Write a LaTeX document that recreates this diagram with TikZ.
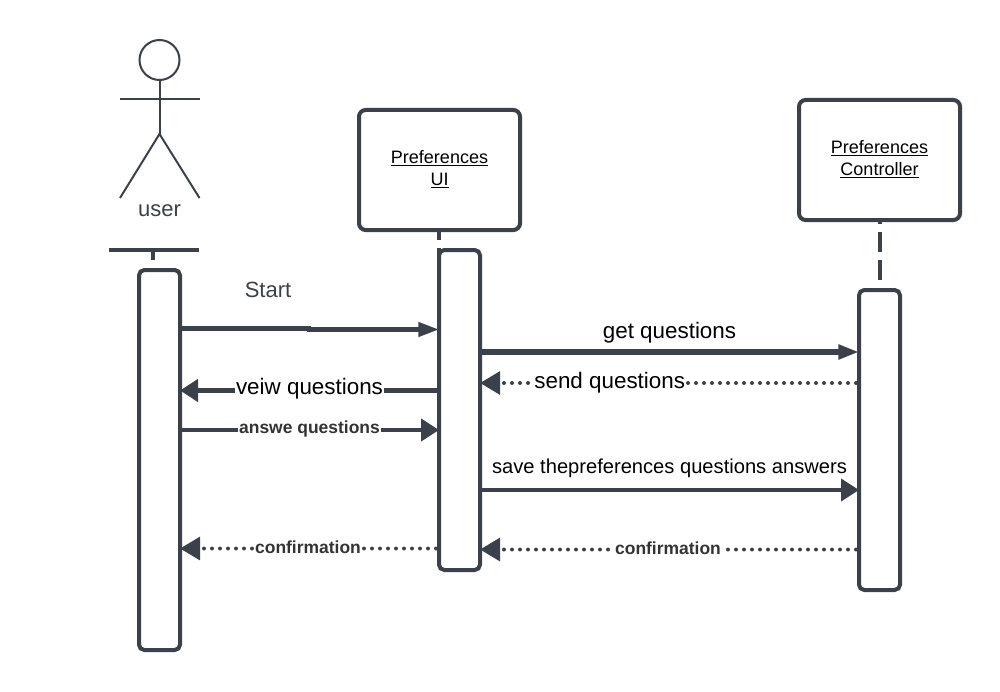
\documentclass[tikz,border=0pt]{standalone}
\usepackage{fontspec}
\setmainfont{Liberation Sans}
\usetikzlibrary{arrows.meta}
\definecolor{ink}{HTML}{3A414A}
\definecolor{boldink}{HTML}{333333}
\tikzset{
  x=0.75pt, y=-0.75pt,
  headbox/.style={draw=ink, fill=white, line width=3pt, rounded corners=5pt, minimum width=120.75pt, minimum height=90pt, inner sep=0pt, outer sep=0pt, align=center, text=black, font=\fontsize{13.5pt}{16.5pt}\selectfont},
  actbox/.style={draw=ink, fill=white, line width=3pt, rounded corners=4pt, minimum width=30.75pt, inner sep=0pt, outer sep=0pt},
  lifeline/.style={draw=ink, line width=3pt, dash pattern=on 15pt off 6pt},
  actorline/.style={draw=ink, line width=1.5pt},
  msgS/.style={draw=ink, line width=#1, -{Triangle[length=15.5pt,width=10.5pt]}},
  msgB/.style={draw=ink, line width=#1, -{Triangle[length=13.5pt,width=16.5pt]}},
  dots/.style={draw=ink, line width=3pt, line cap=round, dash pattern=on 0pt off 6pt, -{Triangle[length=15pt,width=17pt]}},
  lab/.style={fill=white, inner sep=0.6pt, text=black, font=\fontsize{16.8pt}{20pt}\selectfont},
  labbold/.style={fill=white, inner sep=0.6pt, text=boldink, font=\fontsize{13.1pt}{16pt}\selectfont\bfseries},
  plain/.style={inner sep=0pt, font=\fontsize{16.5pt}{20pt}\selectfont},
}
\begin{document}
\begin{tikzpicture}
\useasboundingbox (0,0) rectangle (1000,692);
% actor
\node[circle, draw=ink, line width=1.5pt, minimum size=30pt, inner sep=0pt, outer sep=0pt] (head) at (159.5,60) {};
\coordinate (hip) at (159.5,134);
\coordinate (armL) at (120,99.5);
\coordinate (armR) at (199.5,99.5);
\coordinate (footL) at (120,198);
\coordinate (footR) at (199.5,198);
\draw[actorline] (head.south) -- (hip);
\draw[actorline] (armL) -- (armR);
\draw[actorline] (footL) -- (hip) -- (footR);
\node[plain, text=ink] (userlabel) at (159.5,210.5) {user};
% user lifeline
\coordinate (barL) at (109,250);
\coordinate (barR) at (199,250);
\coordinate (barC) at (153,250);
\coordinate (barS) at (153,260);
\draw[draw=ink, line width=3pt] (barL) -- (barR);
\draw[draw=ink, line width=3pt] (barC) -- (barS);
% heads
\node[headbox] (ui) at (439.5,170) {\underline{Preferences}\\\underline{UI}\\[-13.5pt]\mbox{}};
\node[headbox] (ctrl) at (879.5,160) {\underline{Preferences}\\\underline{Controller}\\[-13.5pt]\mbox{}};
% lifelines
\coordinate (uiT) at (439,230);
\coordinate (uiB) at (439,566);
\coordinate (cT) at (880,220);
\coordinate (cB) at (880,592);
\draw[lifeline, dash phase=7.5pt] (uiT) -- (uiB);
\draw[lifeline, dash phase=12pt] (cT) -- (cB);
% activations
\node[actbox, minimum height=285pt] (ua) at (159.5,460) {};
\node[actbox, minimum height=240pt] (ub) at (459.5,410) {};
\node[actbox, minimum height=225pt] (uc) at (879.5,440) {};
% rows
\coordinate (r1a) at (0,328.5);
\coordinate (r1m) at (309,328.5);
\coordinate (r1n) at (309,329.5);
\coordinate (r1) at (0,329.5);
\coordinate (r2) at (0,352);
\coordinate (r3) at (0,383);
\coordinate (r4) at (0,390.5);
\coordinate (r5) at (0,430);
\coordinate (r6) at (0,490);
\coordinate (r7) at (0,548.5);
\coordinate (r8) at (0,549.5);
% messages
\draw[msgS=3.2pt] (ua.east |- r1a) -- (r1m) -- (r1n) -- (ub.west |- r1);
\node[plain, text=ink] (start) at (268,290) {Start};
\draw[msgS=3.8pt] (ub.east |- r2) -- node[lab, fill=none, pos=0.5, yshift=14.25pt] (getq) {get questions} (uc.west |- r2);
\draw[dots] ([xshift=-2.25pt]uc.west |- r3) -- node[lab, pos=0.655, yshift=0.5pt] (sendq) {send questions} (ub.east |- r3);
\draw[msgB=3.8pt] (ub.west |- r4) -- node[lab, pos=0.5, yshift=1.5pt] (veiw) {veiw questions} (ua.east |- r4);
\draw[msgB=3.2pt] (ua.east |- r5) -- node[labbold, pos=0.5, yshift=0.7pt] (answ) {answe questions} (ub.west |- r5);
\draw[msgB=3pt] (ub.east |- r6) -- node[lab, fill=none, pos=0.5, yshift=16pt, font=\fontsize{15.1pt}{18pt}\selectfont] (saveq) {save thepreferences questions answers} (uc.west |- r6);
\draw[dots] ([xshift=-2.25pt]ub.west |- r7) -- node[labbold, pos=0.5, yshift=0.8pt] (conf1) {confirmation} (ua.east |- r7);
\draw[dots] ([xshift=-2.25pt]uc.west |- r8) -- node[labbold, pos=0.5, yshift=0.8pt] (conf2) {confirmation} (ub.east |- r8);
\end{tikzpicture}
\end{document}
